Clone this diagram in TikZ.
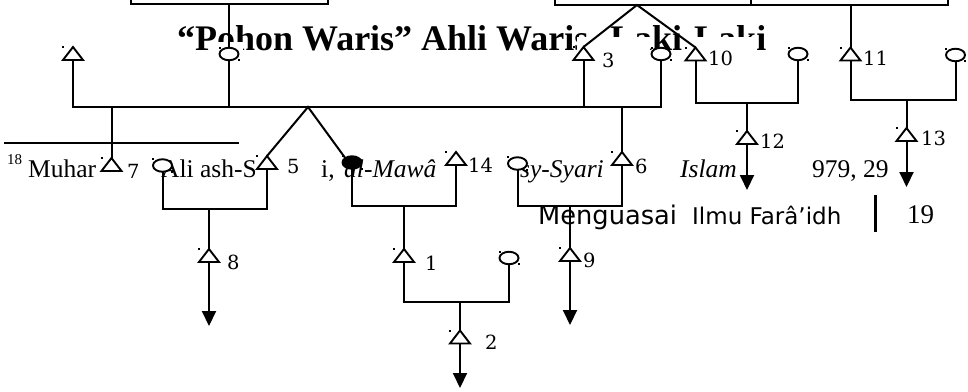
\documentclass[tikz,border=0pt]{standalone}
\usepackage{fontspec}
\setmainfont{Liberation Serif}
\newfontfamily\dvserif{DejaVu Serif}
\newfontfamily\dvsans{DejaVu Sans}
\usetikzlibrary{shapes.geometric,arrows.meta}
\tikzset{
  ln/.style={line width=2pt},
  arr/.style={line width=2pt,-{Triangle[width=14pt,length=15pt]}},
  trinode/.style={minimum width=20pt,minimum height=13pt,inner sep=0pt,outer sep=0pt},
  sym/.style={draw,line width=1.9pt,fill=white,line join=miter},
  circ/.style={ellipse,draw,line width=1.9pt,fill=white,minimum width=19pt,minimum height=12.5pt,inner sep=0pt,outer sep=0pt},
  fcirc/.style={circ,fill=black},
  num/.style={anchor=base west,inner sep=0pt,font=\dvserif\fontsize{19.5}{20}\selectfont},
  fn/.style={anchor=base west,inner sep=0pt,font=\fontsize{25.5}{28}\selectfont},
  ttl/.style={anchor=base west,inner sep=0pt,font=\bfseries\fontsize{36}{40}\selectfont},
  mask/.style={fill=white},
}
\newcommand\perT[3]{%
  \node[trinode] (#1) at (#2,#3) {};
  \path[sym] (#1.south west) -- (#1.north) -- (#1.south east) -- cycle;
  \fill (#1.north west) +(-1,-1) rectangle +(1,1);}
\newcommand\perC[4]{%
  \node[#4] (#1) at (#2,#3) {};
  \fill (#1.west |- #1.north) +(-1,-1) rectangle +(1,1);
  \fill (#1.east |- #1.south) +(-1,-1) rectangle +(1,1);}
\begin{document}
\begin{tikzpicture}[x=1pt,y=-1pt]
\useasboundingbox[fill=white] (0,0) rectangle (968,391);

% ---------- texts underneath ----------
\node[ttl] (title1) at (177,50) {“Pohon Waris” Ahli Waris};
\node[ttl] (title2) at (610,50) {Laki-Laki};
\draw[line width=1.3pt] (4,143) -- (239,143);
\node[anchor=base west,inner sep=0pt,font=\fontsize{15}{16}\selectfont] (fn0) at (7,164) {18};
\node[fn] (fn1) at (28,177) {Muhar};
\node[fn] (fn2) at (161,177) {Ali ash-S};
\node[fn] (fn3) at (321,177) {i,};
\node[fn] (fn4) at (344,177) {\itshape al-Mawâ};
\node[fn] (fn5) at (520,177) {\itshape sy-Syari};
\node[fn] (fn6) at (680,177) {\itshape Islam};
\node[fn] (fn7) at (812,177) {979, 29};
\node[anchor=base west,inner sep=0pt,font=\dvsans\fontsize{25.7}{28}\selectfont] (h1) at (538,224) {Menguasai};
\node[anchor=base west,inner sep=0pt,font=\dvsans\fontsize{23}{26}\selectfont] (h2) at (692,224) {Ilmu Farâ’idh};
\draw[line width=3pt] (875,195) -- (875,232);
\node[anchor=base west,inner sep=0pt,font=\fontsize{27}{30}\selectfont] (pg) at (907,223) {19};

% ---------- white text boxes of the symbols ----------
\fill[mask] (97,146) rectangle (152,186);
\fill[mask] (257,146) rectangle (320,186);
\fill[mask] (443,146) rectangle (519,186);
\fill[mask] (607,146) rectangle (679,186);
\fill[mask] (736,120) rectangle (811,192);
\fill[mask] (891,120) rectangle (968,192);
\fill[mask] (216,42) rectangle (243,66);
\fill[mask] (577,37) rectangle (650,70);
\fill[mask] (683,37) rectangle (756,70);

% ---------- persons ----------
\perT{Ta}{73}{53.5}
\perT{T3}{583.5}{53.5}
\perT{T10}{695.5}{54}
\perT{T11}{850.5}{54}
\perT{T12}{747}{137.5}
\perT{T13}{906.5}{134.5}
\perT{T7}{111.5}{164.5}
\perT{T5}{267}{162.5}
\perT{T14}{456}{158.5}
\perT{T6}{622}{158.5}
\perT{T8}{209}{255.5}
\perT{T1}{404}{255.5}
\perT{T9}{570}{254.5}
\perT{T2}{460}{337}
\perC{Ca}{229}{54}{circ}
\perC{Cb}{661}{54}{circ}
\perC{Cc}{798}{54}{circ}
\perC{Cd}{955.5}{55}{circ}
\perC{Ce}{162.5}{165.5}{circ}
\perC{Cf}{352}{162.5}{fcirc}
\perC{Cg}{517.5}{163.5}{circ}
\perC{Ch}{509}{258}{circ}

% ---------- number labels ----------
\node[num] (l3) at (602,67) {3};
\node[num] (l10) at (708,65) {10};
\node[num] (l11) at (863,65) {11};
\node[num] (l12) at (760,148) {12};
\node[num] (l13) at (921,145) {13};
\node[num] (l7) at (127,178) {7};
\node[num] (l5) at (287,173) {5};
\node[num] (l14) at (468,172) {14};
\node[num] (l6) at (635,173) {6};
\node[num] (l8) at (227,269) {8};
\node[num] (l1) at (425,270) {1};
\node[num] (l9) at (583,267) {9};
\node[num] (l2) at (485,349) {2};

% ---------- junction coordinates ----------
\coordinate (pl1) at (131,0); \coordinate (pl2) at (328,0); \coordinate (yTL) at (0,4);
\coordinate (pr1) at (555,0); \coordinate (pr2) at (751,0); \coordinate (pr3) at (948,0);
\coordinate (yTR) at (0,5); \coordinate (apx) at (637,5);
\coordinate (yA) at (0,107); \coordinate (fk) at (308,107);
\coordinate (yC) at (0,103); \coordinate (yD) at (0,100);
\coordinate (yE) at (0,209); \coordinate (yF) at (0,206); \coordinate (yG) at (0,302);
\coordinate (e12) at (747,190); \coordinate (e13) at (906.5,187);
\coordinate (e8) at (209,326); \coordinate (e9) at (570,325); \coordinate (e2) at (460,388);

% ---------- connectors ----------
\draw[ln] (pl1) -- (pl1 |- yTL) -- (pl2 |- yTL) -- (pl2);
\draw[ln] (Ca.north) -- (Ca.north |- yTL);
\draw[ln] (pr1) -- (pr1 |- yTR) -- (pr3 |- yTR) -- (pr3);
\draw[ln] (pr2) -- (pr2 |- yTR);
\draw[ln] (T3.north) -- (apx) -- (T10.north);
\draw[ln] (T11.north) -- (T11.north |- yTR);

\draw[ln] (Ta.south) -- (Ta.south |- yA) -- (Cb.south |- yA) -- (Cb.south);
\draw[ln] (Ca.south) -- (Ca.south |- yA);
\draw[ln] (T3.south) -- (T3.south |- yA);
\draw[ln] (T7.north |- yA) -- (T7.north);
\draw[ln] (T5.north) -- (fk) -- (Cf.north west);
\draw[ln] (T6.north |- yA) -- (T6.north);

\draw[ln] (T10.south) -- (T10.south |- yC) -- (Cc.south |- yC) -- (Cc.south);
\draw[ln] (T12.north |- yC) -- (T12.north);
\draw[ln] (T11.south) -- (T11.south |- yD) -- (Cd.south |- yD) -- (Cd.south);
\draw[ln] (T13.north |- yD) -- (T13.north);
\draw[arr] (T12.south) -- (e12);
\draw[arr] (T13.south) -- (e13);

\draw[ln] (Ce.south) -- (Ce.south |- yE) -- (T5.south |- yE) -- (T5.south);
\draw[ln] (T8.north |- yE) -- (T8.north);
\draw[ln] (Cf.south) -- (Cf.south |- yF) -- (T14.south |- yF) -- (T14.south);
\draw[ln] (T1.north |- yF) -- (T1.north);
\draw[ln] (Cg.south) -- (Cg.south |- yF) -- (T6.south |- yF) -- (T6.south);
\draw[ln] (T9.north |- yF) -- (T9.north);
\draw[ln] (T1.south) -- (T1.south |- yG) -- (Ch.south |- yG) -- (Ch.south);
\draw[ln] (T2.north |- yG) -- (T2.north);
\draw[arr] (T8.south) -- (e8);
\draw[arr] (T9.south) -- (e9);
\draw[arr] (T2.south) -- (e2);
\end{tikzpicture}
\end{document}
